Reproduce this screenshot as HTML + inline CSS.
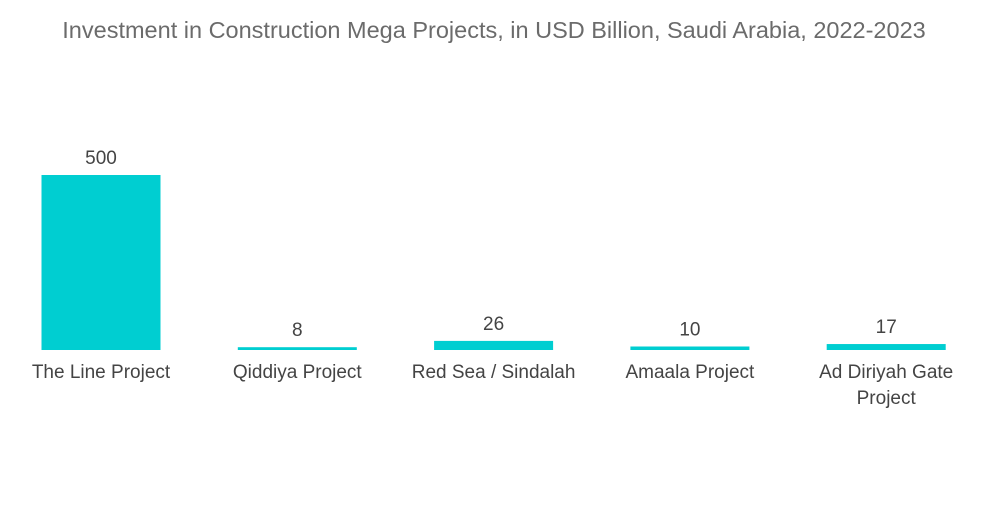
<!DOCTYPE html>
<html><head><meta charset="utf-8"><style>
body{margin:0;background:#fff;width:1000px;height:504px;overflow:hidden;font-family:"Liberation Sans",sans-serif}
</style></head><body>
<svg width="1000" height="504">
<text x="494" y="38" text-anchor="middle" font-size="23.5" fill="#6b6b6b">Investment in Construction Mega Projects, in USD Billion, Saudi Arabia, 2022-2023</text>
<g id="bars"></g>
</svg>
<script>
const categories=[["The Line Project"],["Qiddiya Project"],["Red Sea / Sindalah"],["Amaala Project"],["Ad Diriyah Gate","Project"]];
const values=[500,8,26,10,17];
const labels=["500","8","26","10","17"];
const base=350, scale=175/500, x0=101, step=196.3, bw=119;
const g=document.getElementById('bars');
const ns='http://www.w3.org/2000/svg';
values.forEach((v,i)=>{
  const cx=x0+i*step, h=v*scale;
  const r=document.createElementNS(ns,'rect');
  r.setAttribute('x',cx-bw/2);r.setAttribute('y',base-h);r.setAttribute('width',bw);r.setAttribute('height',h);r.setAttribute('fill','#00ced1');
  
  
  g.appendChild(r);
  const t=document.createElementNS(ns,'text');
  t.setAttribute('x',cx);t.setAttribute('y',base-h-11);t.setAttribute('text-anchor','middle');t.setAttribute('font-size','19');t.setAttribute('fill','#444');
  t.textContent=labels[i];
  
  
  g.appendChild(t);
  categories[i].forEach((line,j)=>{
    const c=document.createElementNS(ns,'text');
    c.setAttribute('x',cx);c.setAttribute('y',378+j*26);c.setAttribute('text-anchor','middle');c.setAttribute('font-size','19');c.setAttribute('fill','#444');
    c.textContent=line;
    
    
    g.appendChild(c);
  });
});
</script>
</body></html>
